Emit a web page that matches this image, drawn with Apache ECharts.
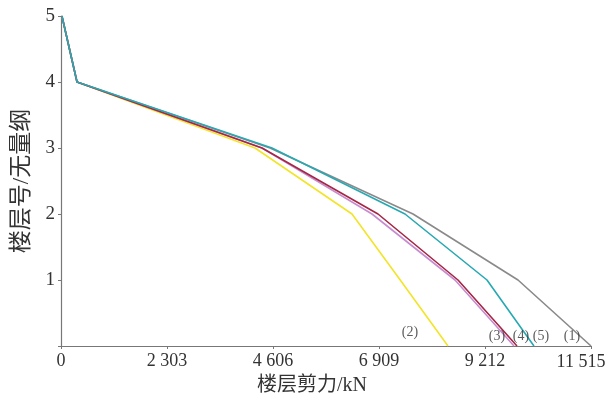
<!DOCTYPE html>
<html>
<head>
<meta charset="utf-8">
<script src="https://cdn.jsdelivr.net/npm/echarts@6/dist/echarts.min.js"></script>
<style>html,body{margin:0;padding:0;background:#fff}#c{width:606px;height:394px}</style>
</head>
<body>
<div id="c"></div>
<script>
const floors = [5, 4, 3, 2, 1, 0];
const xTicks = [0, 2303, 4606, 6909, 9212, 11515];
const s1 = [20, 348, 4541, 7648, 9929, 11515];   // gray (1)
const s2 = [20, 348, 4215, 6322, 7370, 8408];    // yellow (2)
const s3 = [20, 348, 4367, 6887, 8625, 9907];    // dark red (3)
const s4 = [20, 348, 4367, 6757, 8560, 9842];    // violet
const s5 = [20, 348, 4584, 7474, 9255, 10276];   // cyan
const labelNames = ['(2)', '(3)', '(4)', '(5)', '(1)'];
const labelX = [7582, 9473, 9994, 10429, 11102];
const labelY = [0.2, 0.14, 0.14, 0.14, 0.14];

const serif = "'Liberation Serif', 'Noto Sans CJK SC', serif";
function mk(vals, color, z) {
  return {
    type: 'line', data: vals.map((v, i) => [v, floors[i]]),
    symbol: 'none', z: z,
    lineStyle: { color: color, width: 1.6 }
  };
}
function fmtNum(v) {
  const s = String(Math.round(v));
  return s.length > 3 ? s.slice(0, s.length - 3) + ' ' + s.slice(-3) : s;
}
const chart = echarts.init(document.getElementById('c'), null, { renderer: 'canvas' });
chart.setOption({
  animation: false,
  backgroundColor: '#fff',
  grid: { left: 61, right: 15, top: 16, bottom: 48, containLabel: false, outerBoundsMode: 'none' },
  xAxis: {
    type: 'value', min: 0, max: 11515, interval: 2303,
    name: '楼层剪力/kN', nameLocation: 'middle', nameGap: 24,
    nameTextStyle: { fontFamily: serif, fontSize: 20, color: '#333', padding: [0, 28, 0, 0] },
    axisLine: { lineStyle: { color: '#777', width: 1.2 } },
    axisTick: { show: true, length: 3, lineStyle: { color: '#777' } },
    axisLabel: { fontFamily: serif, fontSize: 18, color: '#333', margin: 6,
      formatter: v => v === xTicks[xTicks.length - 1] ? '{m|' + fmtNum(v) + '}' : fmtNum(v),
      rich: { m: { fontFamily: serif, fontSize: 18, lineHeight: 20, color: '#333', padding: [0, 20, 0, 0] } } },
    splitLine: { show: false }
  },
  yAxis: {
    type: 'value', min: 0, max: 5, interval: 1,
    name: '楼层号/无量纲', nameLocation: 'middle', nameGap: 28, nameRotate: 90,
    nameTextStyle: { fontFamily: serif, fontSize: 23, color: '#333' },
    axisLine: { show: true, lineStyle: { color: '#777', width: 1.2 } },
    axisTick: { show: true, length: 3, lineStyle: { color: '#777' } },
    axisLabel: { fontFamily: serif, fontSize: 19, color: '#333', margin: 6,
      formatter: v => v === 0 ? '' : String(v) },
    splitLine: { show: false }
  },
  series: [
    mk(s1, '#8a8a8a', 2),
    mk(s2, '#f2e428', 3),
    mk(s4, '#c78ccf', 4),
    mk(s3, '#a52645', 5),
    mk(s5, '#27a9b3', 6),
    {
      type: 'scatter', symbolSize: 0, z: 10,
      data: labelX.map((x, i) => ({ value: [x, labelY[i]], name: labelNames[i] })),
      label: { show: true, position: 'inside', formatter: p => p.name,
        fontFamily: serif, fontSize: 14, color: '#333' }
    }
  ]
});
</script>
</body>
</html>
